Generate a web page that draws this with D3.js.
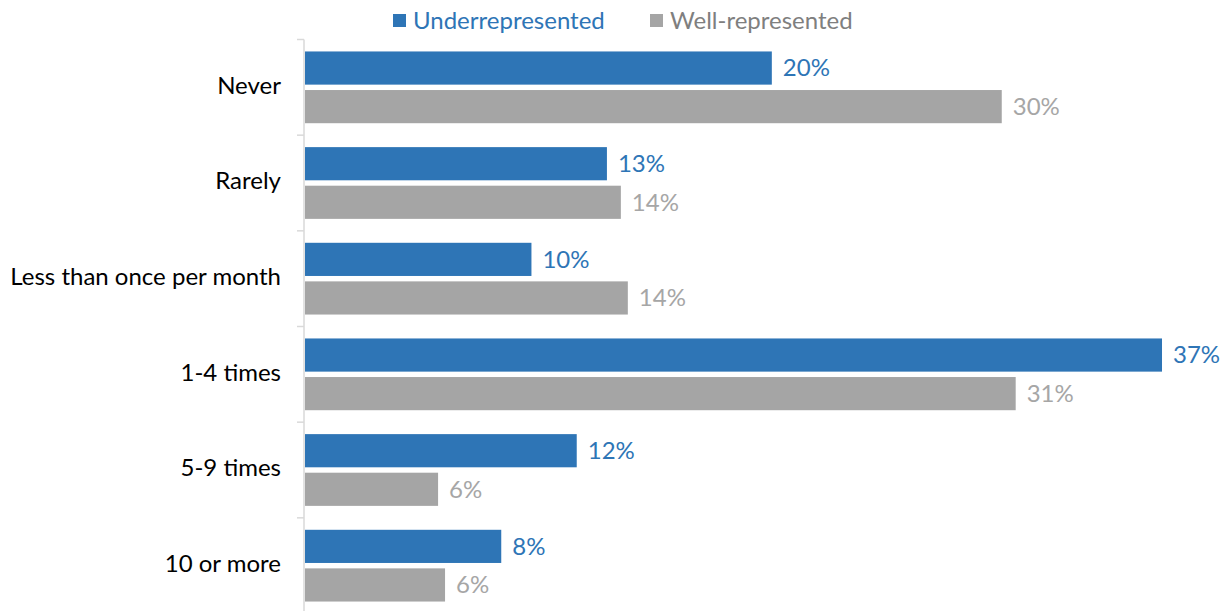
<!DOCTYPE html>
<html>
<head>
<meta charset="utf-8">
<script src="https://cdn.jsdelivr.net/npm/d3@7"></script>
<style>
  html, body { margin: 0; padding: 0; background: #fff; }
  svg { display: block; }
  text { font-family: Lato, "Open Sans", sans-serif; }
</style>
</head>
<body>
<svg id="chart" width="1228" height="611"></svg>
<script>
// Frequency categories (top to bottom)
const categories = ["Never", "Rarely", "Less than once per month", "1-4 times", "5-9 times", "10 or more"];
// Share of respondents in each group
const underrepresented = [0.201, 0.130, 0.0975, 0.369, 0.117, 0.0845];
const wellRepresented  = [0.300, 0.136, 0.139, 0.306, 0.0573, 0.0603];
const seriesNames = ["Underrepresented", "Well-represented"];

const colors = { bar: ["#2E75B6", "#A5A5A5"], label: ["#2E75B6", "#A6A6A6"], legend: ["#2E75B6", "#7F7F7F"] };

const rows = categories.map((c, i) => ({ cat: c, vals: [underrepresented[i], wellRepresented[i]] }));

const svg = d3.select("#chart");
const x0 = 305;
const fontSize = 24;

const x = d3.scaleLinear().domain([0, 0.40]).range([x0, x0 + 929]);
const y = d3.scaleBand().domain(categories).range([39.5, 613.5]).paddingInner(0.25).paddingOuter(0.125);
const ySub = d3.scaleBand().domain([0, 1]).range([0, y.bandwidth()]).paddingInner(0.14);
const fmt = d3.format(".0%");

// Category axis: vertical rule with ticks between groups
const gap = y.step() * y.paddingInner() / 2;
svg.append("line")
  .attr("x1", x0 - 1).attr("x2", x0 - 1)
  .attr("y1", y(categories[0]) - gap).attr("y2", 611)
  .attr("stroke", "#D9D9D9").attr("stroke-width", 1.5);
svg.selectAll("line.tick").data(categories).join("line")
  .attr("class", "tick")
  .attr("x1", x0 - 8).attr("x2", x0 - 1)
  .attr("y1", d => y(d) - gap).attr("y2", d => y(d) - gap)
  .attr("stroke", "#D9D9D9").attr("stroke-width", 1.5);

svg.selectAll("text.cat").data(categories).join("text")
  .attr("class", "cat")
  .attr("x", 281)
  .attr("y", d => y(d) + y.bandwidth() / 2 - 2)
  .attr("dy", "0.35em")
  .attr("text-anchor", "end")
  .attr("font-size", fontSize)
  .attr("fill", "#000")
  .text(d => d);

// Bars and value labels
const groups = svg.selectAll("g.row").data(rows).join("g")
  .attr("class", "row")
  .attr("transform", d => `translate(0,${y(d.cat)})`);

groups.selectAll("rect").data(d => d.vals.map((v, k) => ({ v, k }))).join("rect")
  .attr("x", x(0))
  .attr("y", d => ySub(d.k))
  .attr("width", d => x(d.v) - x(0))
  .attr("height", ySub.bandwidth())
  .attr("fill", d => colors.bar[d.k]);

groups.selectAll("text.val").data(d => d.vals.map((v, k) => ({ v, k }))).join("text")
  .attr("class", "val")
  .attr("x", d => x(d.v) + 11)
  .attr("y", d => ySub(d.k) + ySub.bandwidth() / 2)
  .attr("dy", "0.35em")
  .attr("font-size", fontSize)
  .attr("fill", d => colors.label[d.k])
  .text(d => fmt(d.v));

// Legend
const legendX = [393, 650];
const legend = svg.selectAll("g.legend").data(seriesNames).join("g")
  .attr("class", "legend")
  .attr("transform", (d, i) => `translate(${legendX[i]},0)`);
legend.append("rect")
  .attr("x", 0).attr("y", 14).attr("width", 13).attr("height", 13)
  .attr("fill", (d, i) => colors.bar[i]);
legend.append("text")
  .attr("x", 20).attr("y", 21)
  .attr("dy", "0.35em")
  .attr("font-size", fontSize)
  .attr("fill", (d, i) => colors.legend[i])
  .text(d => d);
</script>
</body>
</html>
